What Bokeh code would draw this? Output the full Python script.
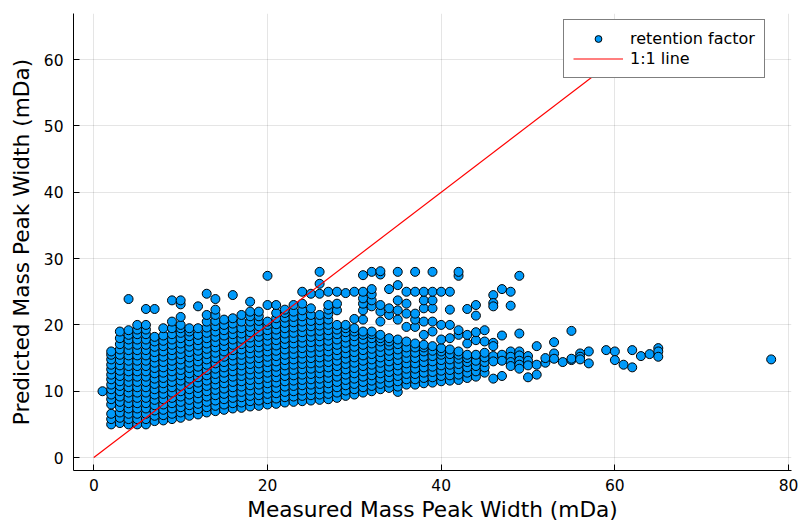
from bokeh.plotting import figure
from bokeh.models import Range1d, FixedTicker, Legend, LegendItem, ColumnDataSource
from bokeh.embed import file_html
from bokeh.resources import INLINE

# ---- data ----
col_x = list(range(1, 46))
col_y = [
    [10.0],
    [5.0, 5.8, 6.6, 8.0, 8.8, 9.5, 10.3, 11.0, 11.8, 12.5, 13.3, 14.0, 14.8, 15.5, 16.0],
    [5.2, 6.0, 6.8, 7.6, 8.4, 9.2, 10.0, 10.8, 11.5, 12.3, 13.1, 13.9, 14.7, 15.5, 16.3, 17.1, 18.0, 19.0],
    [5.0, 5.8, 6.6, 7.4, 8.2, 9.0, 9.8, 10.6, 11.4, 12.2, 13.0, 13.8, 14.6, 15.4, 16.2, 17.0, 17.8, 18.5, 19.2, 23.9],
    [5.0, 5.8, 6.6, 7.4, 8.2, 9.0, 9.8, 10.6, 11.4, 12.2, 13.0, 13.8, 14.6, 15.4, 16.2, 17.0, 17.8, 18.6, 19.3, 20.0],
    [5.0, 5.8, 6.6, 7.4, 8.2, 9.0, 9.8, 10.6, 11.4, 12.2, 13.0, 13.8, 14.6, 15.4, 16.2, 17.0, 17.8, 18.6, 19.3, 20.0, 22.4],
    [5.5, 6.3, 7.1, 7.9, 8.7, 9.5, 10.3, 11.1, 11.9, 12.7, 13.5, 14.3, 15.1, 15.9, 16.7, 17.5, 18.2, 22.4],
    [5.6, 6.4, 7.2, 8.0, 8.8, 9.6, 10.4, 11.2, 12.0, 12.8, 13.6, 14.4, 15.2, 16.0, 16.8, 17.6, 18.4, 19.5],
    [5.8, 6.6, 7.4, 8.2, 9.0, 9.8, 10.6, 11.4, 12.2, 13.0, 13.8, 14.6, 15.4, 16.2, 17.0, 17.8, 18.6, 19.5, 20.5, 23.7],
    [6.0, 6.8, 7.6, 8.4, 9.2, 10.0, 10.8, 11.6, 12.4, 13.2, 14.0, 14.8, 15.6, 16.4, 17.2, 18.0, 18.8, 19.5, 20.0, 21.2, 23.1, 23.7],
    [6.3, 7.1, 7.9, 8.7, 9.5, 10.3, 11.1, 11.9, 12.7, 13.5, 14.3, 15.1, 15.9, 16.7, 17.5, 18.3, 19.0, 19.5],
    [6.5, 7.3, 8.1, 8.9, 9.7, 10.5, 11.3, 12.1, 12.9, 13.7, 14.5, 15.3, 16.1, 16.9, 17.7, 18.5, 19.5, 22.8],
    [6.8, 7.6, 8.4, 9.2, 10.0, 10.8, 11.6, 12.4, 13.2, 14.0, 14.8, 15.6, 16.4, 17.2, 18.0, 18.8, 19.6, 20.5, 21.5, 24.7],
    [7.0, 7.8, 8.6, 9.4, 10.2, 11.0, 11.8, 12.6, 13.4, 14.2, 15.0, 15.8, 16.6, 17.4, 18.2, 19.0, 19.8, 20.6, 21.5, 22.3, 23.9],
    [7.2, 8.0, 8.8, 9.6, 10.4, 11.2, 12.0, 12.8, 13.6, 14.4, 15.2, 16.0, 16.8, 17.6, 18.4, 19.2, 20.0, 20.8],
    [7.4, 8.2, 9.0, 9.8, 10.6, 11.4, 12.2, 13.0, 13.8, 14.6, 15.4, 16.2, 17.0, 17.8, 18.6, 19.4, 20.2, 21.0, 24.5],
    [7.5, 8.3, 9.1, 9.9, 10.7, 11.5, 12.3, 13.1, 13.9, 14.7, 15.5, 16.3, 17.1, 17.9, 18.7, 19.5, 20.5, 21.5],
    [7.7, 8.5, 9.3, 10.1, 10.9, 11.7, 12.5, 13.3, 14.1, 14.9, 15.7, 16.5, 17.3, 18.1, 18.9, 19.7, 20.5, 21.3, 22.0, 23.5],
    [7.8, 8.6, 9.4, 10.2, 11.0, 11.8, 12.6, 13.4, 14.2, 15.0, 15.8, 16.6, 17.4, 18.2, 19.0, 19.8, 20.6, 21.3, 22.0],
    [8.0, 8.8, 9.6, 10.4, 11.2, 12.0, 12.8, 13.6, 14.4, 15.2, 16.0, 16.8, 17.6, 18.4, 19.2, 20.0, 20.5, 23.0, 27.4],
    [8.1, 8.9, 9.7, 10.5, 11.3, 12.1, 12.9, 13.7, 14.5, 15.3, 16.1, 16.9, 17.7, 18.5, 19.3, 20.1, 21.0, 21.8, 23.0],
    [8.3, 9.1, 9.9, 10.7, 11.5, 12.3, 13.1, 13.9, 14.7, 15.5, 16.3, 17.1, 17.9, 18.7, 19.5, 20.3, 21.1, 21.8, 22.3],
    [8.4, 9.2, 10.0, 10.8, 11.6, 12.4, 13.2, 14.0, 14.8, 15.6, 16.4, 17.2, 18.0, 18.8, 19.6, 20.4, 21.2, 22.0, 23.0],
    [8.5, 9.3, 10.1, 10.9, 11.7, 12.5, 13.3, 14.1, 14.9, 15.7, 16.5, 17.3, 18.1, 18.9, 19.7, 20.5, 21.3, 22.2, 23.2, 25.0],
    [8.6, 9.4, 10.2, 11.0, 11.8, 12.6, 13.4, 14.2, 15.0, 15.8, 16.6, 17.4, 18.2, 19.0, 19.8, 20.6, 21.5, 22.5, 24.7],
    [8.7, 9.5, 10.3, 11.1, 11.9, 12.7, 13.5, 14.3, 15.1, 15.9, 16.7, 17.5, 18.3, 19.1, 19.9, 20.7, 21.5, 24.7, 26.2, 28.0],
    [8.8, 9.6, 10.4, 11.2, 12.0, 12.8, 13.6, 14.4, 15.2, 16.0, 16.8, 17.6, 18.4, 19.2, 20.0, 20.8, 21.6, 22.3, 23.0, 25.0],
    [9.0, 9.8, 10.6, 11.4, 12.2, 13.0, 13.8, 14.6, 15.4, 16.2, 17.0, 17.8, 18.6, 19.3, 20.0, 22.2, 23.2, 25.0],
    [9.3, 10.1, 10.9, 11.7, 12.5, 13.3, 14.1, 14.9, 15.7, 16.5, 17.3, 18.1, 18.9, 19.5, 20.0, 24.8],
    [9.5, 10.3, 11.1, 11.9, 12.7, 13.5, 14.3, 15.1, 15.9, 16.7, 17.5, 18.3, 19.0, 19.5, 20.9, 25.0],
    [9.8, 10.6, 11.4, 12.2, 13.0, 13.8, 14.6, 15.4, 16.2, 17.0, 17.8, 18.5, 19.0, 20.8, 22.2, 23.2, 24.0, 25.0, 27.5],
    [10.0, 10.8, 11.6, 12.4, 13.2, 14.0, 14.8, 15.6, 16.4, 17.2, 18.0, 18.6, 19.0, 22.8, 23.7, 24.6, 25.4, 28.0],
    [10.3, 11.1, 11.9, 12.7, 13.5, 14.3, 15.1, 15.9, 16.7, 17.5, 18.0, 18.5, 20.5, 22.0, 23.0, 27.6, 28.1],
    [10.5, 11.3, 12.1, 12.9, 13.7, 14.5, 15.3, 16.1, 16.9, 17.5, 18.0, 21.5, 22.5, 25.4],
    [9.9, 10.7, 11.5, 12.3, 13.1, 13.9, 14.7, 15.5, 16.3, 17.1, 17.8, 20.8, 22.2, 23.7, 26.0, 28.0],
    [11.0, 11.8, 12.6, 13.4, 14.2, 15.0, 15.8, 16.6, 17.5, 19.7, 21.7, 23.2, 25.0],
    [11.0, 11.8, 12.6, 13.4, 14.2, 15.0, 15.8, 16.6, 17.2, 19.7, 20.8, 21.7, 25.0, 28.0],
    [11.2, 12.0, 12.8, 13.6, 14.4, 15.2, 16.0, 16.6, 17.0, 18.5, 20.5, 22.5, 23.7, 25.0],
    [11.3, 12.1, 12.9, 13.7, 14.5, 15.3, 16.1, 16.8, 19.0, 20.5, 22.5, 23.7, 25.0, 28.0],
    [11.5, 12.3, 13.1, 13.9, 14.7, 15.5, 16.0, 16.5, 17.8, 20.0, 25.0],
    [11.6, 12.4, 13.2, 14.0, 14.8, 15.6, 16.3, 18.0, 20.0, 22.3, 25.0],
    [11.7, 12.5, 13.3, 14.1, 14.9, 15.5, 16.0, 18.5, 19.2, 27.4, 28.0],
    [12.0, 12.8, 13.6, 14.4, 15.0, 15.5, 17.2, 18.5, 22.4],
    [12.2, 13.0, 13.8, 14.6, 15.5, 17.7, 18.9, 21.4, 23.0],
    [12.8, 13.6, 14.4, 15.1, 15.8, 17.5, 19.2],
]
tail_x = [46, 46, 46, 46, 46, 46, 46, 46, 47, 47, 47, 47, 47, 48, 48, 48, 48, 48, 48,
          49, 49, 49, 49, 49, 49, 49, 50, 50, 50, 50, 51, 51, 51, 52, 52, 53, 53, 53,
          54, 55, 55, 55, 56, 56, 56, 57, 57, 59, 60, 60, 61, 62, 62, 63, 64, 65, 65, 65, 78]
tail_y = [24.5, 23.3, 22.8, 17.3, 16.8, 15.3, 14.5, 11.9, 25.4, 18.4, 15.5, 14.6, 12.3,
          25.0, 22.9, 16.0, 15.2, 14.4, 13.8, 27.4, 18.7, 16.0, 15.4, 14.6, 14.0, 13.4,
          15.3, 14.6, 13.9, 12.1, 16.8, 14.0, 12.5, 14.3, 15.0, 17.4, 15.7, 14.9,
          14.4, 19.1, 14.7, 14.9, 15.7, 15.2, 14.8, 16.0, 14.2, 16.2, 16.0, 14.7, 14.0,
          16.2, 13.6, 15.3, 15.6, 16.5, 16.0, 15.2, 14.8]
line_x = [0, 65]
line_y = [0, 65]
x_ticks = [0, 20, 40, 60, 80]
y_ticks = [0, 10, 20, 30, 40, 50, 60]

measured = []
predicted = []
for cx, ys in zip(col_x, col_y):
    for yv in ys:
        measured.append(cx)
        predicted.append(yv)
measured += tail_x
predicted += tail_y

FONT = "DejaVu Sans"

p = figure(width=798, height=525, output_backend="svg", toolbar_location=None,
           x_range=Range1d(-2.34, 80.34), y_range=Range1d(-1.95, 66.95),
           min_border_left=73, min_border_right=7, min_border_top=13, min_border_bottom=55)
p.outline_line_color = None
p.background_fill_color = "white"
p.border_fill_color = "white"

src = ColumnDataSource(dict(x=measured, y=predicted))
sc = p.scatter("x", "y", source=src, size=9, fill_color="#009AFA", line_color="black", line_width=1)
ln = p.line(line_x, line_y, line_color="#FF0000", line_width=1.2)

for ax, ticks in ((p.xaxis[0], x_ticks), (p.yaxis[0], y_ticks)):
    ax.ticker = FixedTicker(ticks=ticks)
    ax.major_tick_in = 6
    ax.major_tick_out = 0
    ax.minor_tick_line_color = None
    ax.axis_line_color = "black"
    ax.major_tick_line_color = "black"
    ax.major_label_text_font = FONT
    ax.major_label_text_font_size = "15.5px"
    ax.major_label_text_color = "black"
    ax.axis_label_text_font = FONT
    ax.axis_label_text_font_size = "21.7px"
    ax.axis_label_text_font_style = "normal"
    ax.axis_label_text_color = "black"

p.xaxis.axis_label = "Measured Mass Peak Width (mDa)"
p.yaxis.axis_label = "Predicted Mass Peak Width (mDa)"
p.xaxis.major_label_standoff = 8
p.yaxis.major_label_standoff = 10
p.xaxis.axis_label_standoff = 3
p.yaxis.axis_label_standoff = 7

for g in (p.xgrid[0], p.ygrid[0]):
    g.grid_line_color = "black"
    g.grid_line_alpha = 0.1
    g.grid_line_width = 1
p.xgrid.ticker = FixedTicker(ticks=x_ticks)
p.ygrid.ticker = FixedTicker(ticks=y_ticks)

legend = Legend(items=[LegendItem(label="retention factor", renderers=[sc]),
                       LegendItem(label="1:1 line", renderers=[ln])],
                location=(490, 392))
legend.label_text_font = FONT
legend.label_text_font_size = "16px"
legend.label_text_color = "black"
legend.border_line_color = "black"
legend.border_line_width = 1
legend.background_fill_color = "white"
legend.background_fill_alpha = 1
legend.padding = 9
legend.spacing = 1
legend.glyph_width = 50
legend.glyph_height = 17
legend.label_height = 17
legend.label_standoff = 7
legend.margin = 0
p.add_layout(legend)

open("out.html", "w").write(file_html(p, INLINE))
